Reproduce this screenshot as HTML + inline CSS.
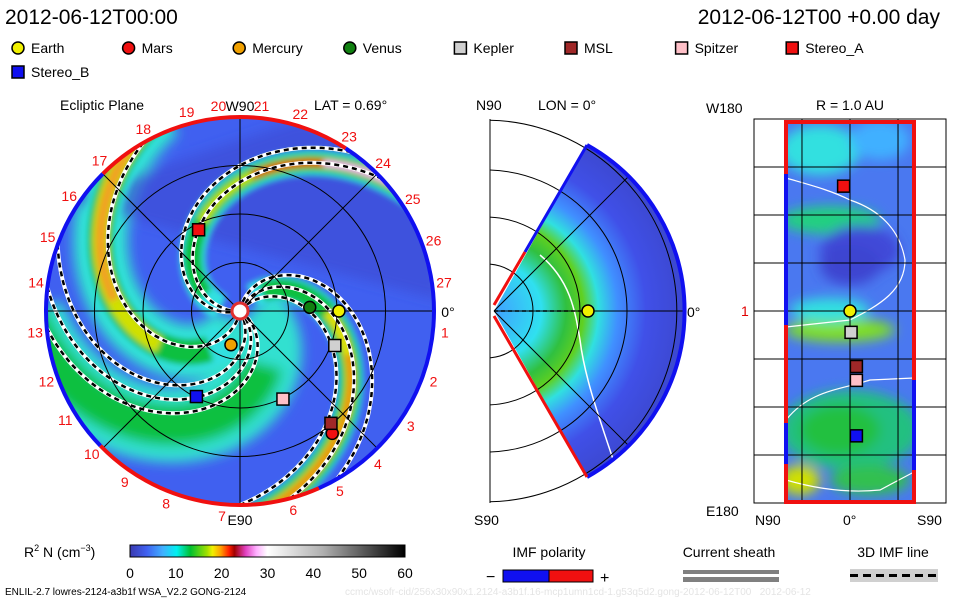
<!DOCTYPE html>
<html><head><meta charset="utf-8"><style>
body{margin:0;background:#fff;width:960px;height:600px;overflow:hidden}
svg text{font-family:"Liberation Sans",sans-serif}
</style></head><body>
<svg id="c" width="960" height="600" viewBox="0 0 960 600" xmlns="http://www.w3.org/2000/svg">
<defs>
<clipPath id="disc"><circle cx="240" cy="311" r="194"/></clipPath>
<clipPath id="wedge"><path d="M494,311 L587,145 A190 190 0 0 1 587,477 Z"/></clipPath>
<clipPath id="rect"><rect x="786" y="122" width="128" height="380"/></clipPath>
<filter id="blur" x="-20%" y="-20%" width="140%" height="140%"><feGaussianBlur stdDeviation="6"/></filter>
<filter id="blur2" x="-20%" y="-20%" width="140%" height="140%"><feGaussianBlur stdDeviation="3"/></filter>
<linearGradient id="cbar" x1="0" x2="1">
<stop offset="0" stop-color="#3a3ab0"/><stop offset="0.06" stop-color="#4060f0"/><stop offset="0.12" stop-color="#40b0ff"/>
<stop offset="0.17" stop-color="#00f0f0"/><stop offset="0.22" stop-color="#00c030"/><stop offset="0.28" stop-color="#a0e000"/>
<stop offset="0.3" stop-color="#f0f000"/><stop offset="0.33" stop-color="#ffa000"/><stop offset="0.36" stop-color="#ff2000"/>
<stop offset="0.38" stop-color="#a00000"/><stop offset="0.42" stop-color="#e040c0"/><stop offset="0.46" stop-color="#ffb0ff"/>
<stop offset="0.5" stop-color="#ffffff"/><stop offset="0.7" stop-color="#b0b0b0"/><stop offset="1" stop-color="#000000"/>
</linearGradient>
<radialGradient id="wg" cx="494" cy="311" r="190" gradientUnits="userSpaceOnUse">
<stop offset="0" stop-color="#40a0ff"/><stop offset="0.25" stop-color="#30e0f0"/><stop offset="0.38" stop-color="#30c040"/>
<stop offset="0.47" stop-color="#60d020"/><stop offset="0.55" stop-color="#30e0e0"/><stop offset="0.65" stop-color="#4090ff"/>
<stop offset="0.8" stop-color="#4050e8"/><stop offset="1" stop-color="#3c48d0"/>
</radialGradient>
</defs>

<text x="5" y="24" font-size="21">2012-06-12T00:00</text>
<text x="940" y="24" font-size="21" text-anchor="end">2012-06-12T00 +0.00 day</text>
<g id="legend"></g>

<g id="ecl">
<text x="60" y="110" font-size="14">Ecliptic Plane</text>
<text x="314" y="110" font-size="14">LAT = 0.69°</text>
<g clip-path="url(#disc)">
<circle cx="240" cy="311" r="194" fill="#4060f0"/>
<g id="bands"></g>
<g id="field"></g>
</g>
<g id="eclgrid" stroke="#000" stroke-width="1" fill="none"></g>
<g id="rim"></g>
<circle cx="240" cy="311" r="8" fill="#fff" stroke="#e03030" stroke-width="3"/>
<g id="rotlabels"></g>
<g id="eclbodies"></g>
</g>

<g id="mer">
<text x="476" y="110" font-size="14">N90</text>
<text x="538" y="110" font-size="14">LON = 0°</text>
<text x="474" y="525" font-size="14">S90</text>
<text x="687" y="317" font-size="14">0°</text>
<g clip-path="url(#wedge)">
<path d="M494,311 L587,145 A190 190 0 0 1 587,477 Z" fill="url(#wg)"/>
<path d="M540,255 C570,280 575,310 580,340 C585,380 600,420 620,480" stroke="#fff" stroke-width="1.5" fill="none"/>
</g>
<g stroke="#000" stroke-width="1" fill="none" id="mergrid"></g>
<path d="M587,145 A190 190 0 0 1 587,477" stroke="#1010f0" stroke-width="4" fill="none"/>
<path d="M525,252 L587,145" stroke="#1010f0" stroke-width="3"/>
<path d="M494,305 L525,252" stroke="#f01010" stroke-width="3"/>
<path d="M494,316 L587,477" stroke="#f01010" stroke-width="3"/>
<line x1="494" y1="311" x2="590" y2="311" stroke="#000" stroke-dasharray="4,3" stroke-width="1.5"/>
<g id="merbodies"></g>
</g>

<g id="lon">
<text x="706" y="113" font-size="14">W180</text>
<text x="850" y="110" font-size="14" text-anchor="middle">R = 1.0 AU</text>
<text x="741" y="316" font-size="14" fill="#e00000">1</text>
<text x="706" y="516" font-size="14">E180</text>
<text x="755" y="525" font-size="14">N90</text>
<text x="843" y="525" font-size="14">0°</text>
<text x="917" y="525" font-size="14">S90</text>
<g clip-path="url(#rect)">
<rect x="786" y="122" width="128" height="380" fill="#4a78f0"/>
<g filter="url(#blur)">
<ellipse cx="820" cy="150" rx="40" ry="25" fill="#30e0e0"/>
<ellipse cx="880" cy="140" rx="30" ry="20" fill="#40b0ff"/>
<ellipse cx="830" cy="220" rx="50" ry="14" fill="#20d080"/>
<ellipse cx="860" cy="250" rx="40" ry="25" fill="#4048d8"/>
<ellipse cx="850" cy="265" rx="30" ry="20" fill="#3c44d0"/>
<ellipse cx="840" cy="330" rx="55" ry="12" fill="#80e020"/>
<ellipse cx="830" cy="310" rx="40" ry="12" fill="#30e0e0"/>
<ellipse cx="850" cy="430" rx="70" ry="40" fill="#20c080"/>
<ellipse cx="840" cy="430" rx="40" ry="25" fill="#20c040"/>
<ellipse cx="800" cy="480" rx="20" ry="15" fill="#d0e000"/>
<ellipse cx="870" cy="480" rx="40" ry="15" fill="#30c050"/>
</g>
<path d="M786,178 C810,185 830,190 850,200 C880,210 900,230 905,260 C905,290 880,305 850,320 L786,327" stroke="#fff" stroke-width="1.2" fill="none"/>
<path d="M786,420 C810,390 840,390 870,380 L914,378" stroke="#fff" stroke-width="1.2" fill="none"/>
<path d="M786,480 C820,490 850,493 880,490 L914,472" stroke="#fff" stroke-width="1.2" fill="none"/>
</g>
<g stroke="#000" stroke-width="1" fill="none" id="longrid"></g>
<rect x="786" y="122" width="128" height="380" fill="none" stroke="#f01010" stroke-width="4"/>
<line x1="786" y1="174" x2="786" y2="325" stroke="#1010f0" stroke-width="4"/>
<line x1="786" y1="423" x2="786" y2="464" stroke="#1010f0" stroke-width="4"/>
<line x1="914" y1="380" x2="914" y2="470" stroke="#1010f0" stroke-width="4"/>
<g id="lonbodies"></g>
</g>

<g>
<text x="24" y="557" font-size="14">R<tspan font-size="9" dy="-6">2</tspan><tspan dy="6"> N (cm</tspan><tspan font-size="9" dy="-6">−3</tspan><tspan dy="6">)</tspan></text>
<rect x="130" y="545" width="275" height="12" fill="url(#cbar)" stroke="#000" stroke-width="1"/>
<g id="cbticks"></g>
</g>
<g>
<text x="549" y="557" font-size="14" text-anchor="middle">IMF polarity</text>
<text x="486" y="582" font-size="16">−</text>
<rect x="503" y="570" width="46" height="12" fill="#1010f0" stroke="#000"/>
<rect x="549" y="570" width="44" height="12" fill="#f01010" stroke="#000"/>
<text x="600" y="583" font-size="16">+</text>
</g>
<g>
<text x="729" y="557" font-size="14" text-anchor="middle">Current sheath</text>
<rect x="683" y="570" width="96" height="4" fill="#808080"/>
<rect x="683" y="577" width="96" height="5" fill="#808080"/>
</g>
<g>
<text x="893" y="557" font-size="14" text-anchor="middle">3D IMF line</text>
<rect x="850" y="569" width="88" height="13" fill="#d0d0d0"/>
<line x1="850" y1="575.5" x2="938" y2="575.5" stroke="#000" stroke-width="3" stroke-dasharray="8,5"/>
</g>
<text x="5" y="595" font-size="10">ENLIL-2.7 lowres-2124-a3b1f WSA_V2.2 GONG-2124</text>
<text x="345" y="595" font-size="10" fill="#e4e4e4">ccmc/wsofr-cid/256x30x90x1.2124-a3b1f.16-mcp1umn1cd-1.g53q5d2.gong-2012-06-12T00&#160;&#160;&#160;2012-06-12</text>
</svg>
<script>
const NS="http://www.w3.org/2000/svg";
// ---- data ----
const bodyNames=["Earth","Mars","Mercury","Venus","Kepler","MSL","Spitzer","Stereo_A","Stereo_B"];
const bodyColors=["#f0f000","#f01010","#f0a000","#108010","#d0d0d0","#a02828","#ffc0c8","#f01010","#1010f0"];
const bodyShapes=["circle","circle","circle","circle","square","square","square","square","square"];
const eclLonDeg=[0,-53,255,3,-20,-51,-64,117,243];
const eclRadAU=[1.02,1.58,0.36,0.72,1.04,1.49,1.01,0.94,0.99];
const merLatDeg=[0];
const merRadAU=[1.0];
const rLonDeg=[0,117,-20,-52,-65,-117];
const rLatDeg=[0,-6,1,6,6,6];
const rBodyIdx=[0,7,4,5,6,8];
const streamerLon=[-8,113,196,265];
const fieldLon=[-20,-5,10,113,125,190,230,243,255];
const cbTicks=[0,10,20,30,40,50,60];
const rotLabels=["20","21","19","22","18","23","17","24","16","25","15","26","14","27","13","1","12","2","11","3","10","4","9","5","8","6","7"];
const rotAngles=[96,84,105,73,118,58,133,46,146,33,159,20,172,8,186,-6,200,-20,212,-34,224,-48,236,-61,249,-75,265];
// ---- scales ----
const cx=240,cy=311,AU=97;
const ex=(r,a)=>cx+r*AU*Math.cos(a*Math.PI/180);
const ey=(r,a)=>cy-r*AU*Math.sin(a*Math.PI/180);
const mx=(r,a)=>494+r*94*Math.cos(a*Math.PI/180);
const my=(r,a)=>311-r*94*Math.sin(a*Math.PI/180);
const lx=lat=>850+lat*1.067;
const ly=lon=>311-lon*1.067;
const cbx=v=>130+v*275/60;
function el(tag,attrs,parent){const e=document.createElementNS(NS,tag);for(const k in attrs)e.setAttribute(k,attrs[k]);parent.appendChild(e);return e;}
function spiral(phi1,r0,r1){let d="";for(let r=r0;r<=r1+1e-6;r+=0.02){const a=phi1-70*(r-1);d+=(d?"L":"M")+ex(r,a).toFixed(1)+","+ey(r,a).toFixed(1);}return d;}
function marker(g,shape,x,y,color,name){let m;
 if(shape==="circle"){m=el("circle",{cx:x,cy:y,r:6,fill:color,stroke:"#000","stroke-width":1.5},g);}
 else{m=el("rect",{x:x-6,y:y-6,width:12,height:12,fill:color,stroke:"#000","stroke-width":1.5},g);}
 
 return m;}
// legend
const lg=document.getElementById("legend");
bodyNames.forEach((n,i)=>{const row=i<8?0:1;const col=i<8?i:0;const x=18+col*110.6,y=48+row*24;
 marker(lg,bodyShapes[i],x,y,bodyColors[i],'legend-marker-'+n.toLowerCase());
 const t=el("text",{x:x+13,y:y+5,"font-size":14},lg);t.textContent=n;
 
 });
// bands
const bg=document.getElementById("bands");
const bb=el("g",{filter:"url(#blur)"},bg);
el("path",{d:spiral(streamerLon[3],0.1,2.2),stroke:"#30e0d0","stroke-width":75,fill:"none"},bb);
el("path",{d:spiral(streamerLon[3],0.6,2.2),stroke:"#10c040","stroke-width":40,fill:"none"},bb);
el("path",{d:spiral(streamerLon[2],0.1,2.2),stroke:"#30e0d0","stroke-width":55,fill:"none"},bb);
el("path",{d:"M60,200 L300,120 L440,160 L440,300 Z",fill:"#3c48d0",opacity:0.6},bb);
const b2=el("g",{filter:"url(#blur2)"},bg);
[[2,0.3,"#30e0e0",36],[2,0.5,"#10c040",26],[2,0.9,"#d0e000",16],[2,1.3,"#f0a020",10],
 [1,0.2,"#30e0e0",26],[1,0.4,"#10c040",18],[1,1.0,"#c0e000",10],[1,1.4,"#e04010",8],[1,1.75,"#f0b0f0",8],
 [0,0.2,"#30e0e0",26],[0,0.3,"#10c040",20],[0,0.9,"#e0e000",10],[0,1.2,"#f07010",5]].forEach(([k,r0,c,w])=>{
 el("path",{d:spiral(streamerLon[k],r0,2.2),stroke:c,"stroke-width":w,fill:"none"},b2);});
// field lines
const fg=document.getElementById("field");
fieldLon.forEach((p,i)=>{const d=spiral(p,0.1,2.2);
 el("path",{d:d,stroke:"#fff","stroke-width":4,fill:"none"},fg);
 const l=el("path",{d:d,stroke:"#000","stroke-width":2.5,"stroke-dasharray":"5,4",fill:"none"},fg);
 
 });
// grid
const gg=document.getElementById("eclgrid");
[0.5,1,1.5].forEach(r=>el("circle",{cx:cx,cy:cy,r:r*AU},gg));
[0,45,90,135].forEach(a=>el("line",{x1:ex(2,a),y1:ey(2,a),x2:ex(2,a+180),y2:ey(2,a+180)},gg));
// rim
const rim=document.getElementById("rim");
function arc(a0,a1,col){const r=2;const large=(a1-a0)>180?1:0;
 el("path",{d:`M${ex(r,a0)},${ey(r,a0)} A${r*AU} ${r*AU} 0 ${large} 0 ${ex(r,a1)},${ey(r,a1)}`,stroke:col,"stroke-width":4,fill:"none"},rim);}
arc(57,135,"#f01010");arc(135,224,"#1010f0");arc(224,294,"#f01010");arc(-66,57,"#1010f0");
// rotation labels
const rl=document.getElementById("rotlabels");
rotLabels.forEach((t,i)=>{const a=rotAngles[i];const x=cx+206*Math.cos(a*Math.PI/180),y=cy-206*Math.sin(a*Math.PI/180)+5;
 const e=el("text",{x:x,y:y,"font-size":14,fill:"#f01010","text-anchor":"middle"},rl);e.textContent=t;});
[["W90",240,111],["0°",448,317],["E90",240,525]].forEach(([t,x,y])=>{const e=el("text",{x:x,y:y,"font-size":14,"text-anchor":"middle"},rl);e.textContent=t;});
// ecliptic bodies
const eb=document.getElementById("eclbodies");
bodyNames.forEach((n,i)=>marker(eb,bodyShapes[i],ex(eclRadAU[i],eclLonDeg[i]),ey(eclRadAU[i],eclLonDeg[i]),bodyColors[i],'ecliptic-'+n.toLowerCase()));
// meridional grid
const mg=document.getElementById("mergrid");
el("line",{x1:490,y1:119,x2:490,y2:503},mg);
[0.5,1,1.5,2.03].forEach(r=>{const R=r*94;const dy=Math.sqrt(Math.max(R*R-16,0));
 el("path",{d:`M490,${311-dy} A${R} ${R} 0 0 1 490,${311+dy}`},mg);});
el("line",{x1:494,y1:311,x2:685,y2:311},mg);
[45,-45].forEach(a=>el("line",{x1:494,y1:311,x2:mx(2.03,a),y2:my(2.03,a)},mg));
const mb=document.getElementById("merbodies");
merLatDeg.forEach((a,i)=>marker(mb,"circle",mx(merRadAU[i],a),my(merRadAU[i],a),bodyColors[0],'meridional-earth'));
// lon-lat grid
const lgd=document.getElementById("longrid");
el("rect",{x:754,y:119,width:192,height:384},lgd);
[-135,-90,-45,0,45,90,135].forEach(v=>el("line",{x1:754,y1:ly(v),x2:946,y2:ly(v)},lgd));
[-45,0,45].forEach(v=>el("line",{x1:lx(v),y1:119,x2:lx(v),y2:503},lgd));
const lb=document.getElementById("lonbodies");
rBodyIdx.forEach((bi,i)=>marker(lb,bodyShapes[bi],lx(rLatDeg[i]),ly(rLonDeg[i]),bodyColors[bi],'r1au-'+bodyNames[bi].toLowerCase()));
// colorbar ticks
const cb=document.getElementById("cbticks");
cbTicks.forEach(v=>{const t=el("text",{x:cbx(v),y:578,"font-size":14,"text-anchor":"middle"},cb);t.textContent=v;
 
 });
</script>
</body></html>
